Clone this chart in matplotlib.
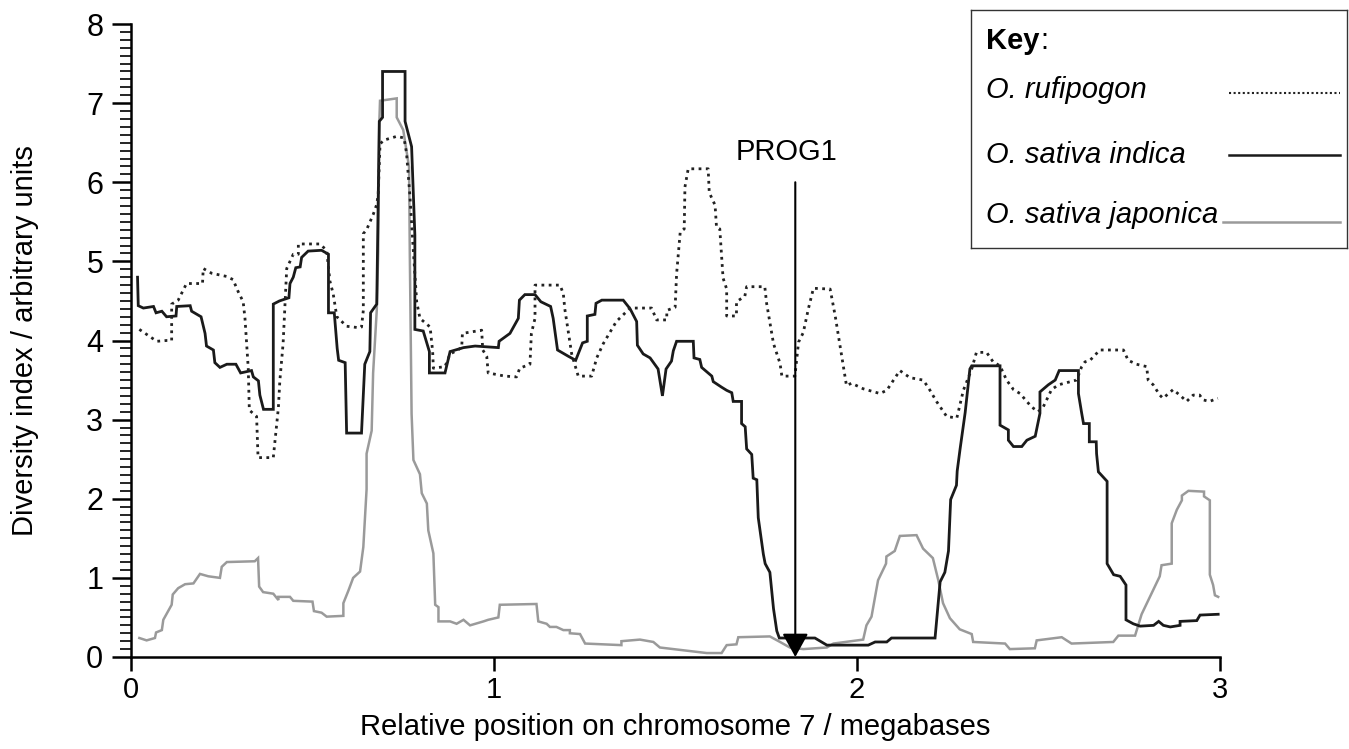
import matplotlib
matplotlib.use("Agg")
import matplotlib.pyplot as plt
from matplotlib.lines import Line2D
from matplotlib.ticker import MultipleLocator

plt.rcParams['font.family'] = ['Liberation Sans', 'DejaVu Sans']

# (position in Mb, diversity index)
rufipogon = [
    (0.023, 4.14), (0.039, 4.09), (0.071, 3.99), (0.098, 4.00), (0.112, 4.00), (0.112, 4.46), (0.130, 4.51),
    (0.153, 4.72), (0.197, 4.72), (0.199, 4.91), (0.222, 4.85), (0.263, 4.81), (0.281, 4.77), (0.295, 4.62),
    (0.309, 4.49), (0.314, 4.28), (0.323, 3.65), (0.326, 3.12), (0.346, 3.04), (0.350, 2.52), (0.392, 2.52),
    (0.406, 3.15), (0.410, 3.49), (0.419, 3.96), (0.429, 4.91), (0.447, 5.09), (0.461, 5.09), (0.461, 5.22),
    (0.520, 5.22), (0.539, 5.14), (0.548, 4.75), (0.557, 4.59), (0.567, 4.30), (0.594, 4.18), (0.631, 4.16),
    (0.635, 4.17), (0.640, 4.38), (0.640, 5.35), (0.649, 5.40), (0.667, 5.59), (0.677, 5.72), (0.681, 5.85),
    (0.686, 6.48), (0.695, 6.53), (0.732, 6.58), (0.752, 6.56), (0.759, 6.37), (0.768, 5.85), (0.778, 5.12),
    (0.787, 4.49), (0.796, 4.28), (0.824, 4.17), (0.831, 3.86), (0.833, 3.65), (0.865, 3.67), (0.879, 3.83),
    (0.892, 3.86), (0.911, 3.91), (0.913, 4.09), (0.966, 4.13), (0.969, 3.88), (0.980, 3.80), (0.984, 3.59),
    (1.030, 3.55), (1.062, 3.54), (1.071, 3.65), (1.099, 3.70), (1.103, 4.09), (1.113, 4.28), (1.113, 4.70),
    (1.182, 4.70), (1.191, 4.59), (1.195, 4.40), (1.205, 4.10), (1.214, 3.83), (1.232, 3.55), (1.269, 3.55),
    (1.283, 3.78), (1.301, 3.96), (1.319, 4.10), (1.337, 4.24), (1.375, 4.41), (1.434, 4.41), (1.448, 4.26),
    (1.476, 4.26), (1.476, 4.38), (1.499, 4.42), (1.503, 4.84), (1.513, 5.37), (1.524, 5.41), (1.526, 5.94),
    (1.535, 6.17), (1.590, 6.17), (1.593, 5.87), (1.609, 5.71), (1.613, 5.43), (1.622, 5.41), (1.631, 4.79),
    (1.641, 4.65), (1.641, 4.31), (1.668, 4.31), (1.668, 4.49), (1.691, 4.56), (1.696, 4.68), (1.746, 4.68),
    (1.751, 4.47), (1.770, 3.96), (1.788, 3.71), (1.793, 3.55), (1.829, 3.55), (1.839, 3.98), (1.852, 4.10),
    (1.866, 4.40), (1.880, 4.66), (1.926, 4.65), (1.940, 4.31), (1.971, 3.43), (1.985, 3.46), (2.017, 3.39),
    (2.063, 3.33), (2.082, 3.37), (2.118, 3.62), (2.146, 3.53), (2.182, 3.50), (2.196, 3.41), (2.219, 3.23),
    (2.247, 3.04), (2.275, 3.02), (2.293, 3.37), (2.316, 3.64), (2.329, 3.85), (2.357, 3.85), (2.375, 3.73),
    (2.394, 3.68), (2.412, 3.50), (2.431, 3.38), (2.449, 3.33), (2.481, 3.16), (2.499, 3.10), (2.513, 3.16),
    (2.536, 3.38), (2.555, 3.44), (2.605, 3.50), (2.619, 3.67), (2.628, 3.73), (2.642, 3.75), (2.669, 3.88),
    (2.734, 3.88), (2.747, 3.75), (2.770, 3.70), (2.798, 3.67), (2.802, 3.50), (2.816, 3.44), (2.834, 3.31),
    (2.843, 3.27), (2.871, 3.38), (2.894, 3.29), (2.908, 3.23), (2.926, 3.31), (2.944, 3.31), (2.953, 3.25),
    (2.971, 3.23), (2.994, 3.27),
]

indica = [
    (0.018, 4.80), (0.020, 4.44), (0.034, 4.41), (0.062, 4.43), (0.069, 4.35), (0.085, 4.37), (0.098, 4.30),
    (0.124, 4.31), (0.126, 4.43), (0.163, 4.44), (0.167, 4.37), (0.193, 4.30), (0.204, 4.09), (0.208, 3.93),
    (0.227, 3.88), (0.231, 3.72), (0.245, 3.66), (0.264, 3.70), (0.289, 3.70), (0.302, 3.59), (0.332, 3.62),
    (0.337, 3.54), (0.351, 3.49), (0.355, 3.31), (0.365, 3.13), (0.392, 3.13), (0.392, 4.46), (0.409, 4.50),
    (0.435, 4.54), (0.438, 4.72), (0.447, 4.80), (0.454, 4.92), (0.466, 4.93), (0.470, 5.05), (0.488, 5.13),
    (0.525, 5.14), (0.544, 5.09), (0.544, 4.35), (0.560, 4.35), (0.568, 3.90), (0.572, 3.75), (0.590, 3.72),
    (0.594, 2.83), (0.635, 2.83), (0.644, 3.70), (0.658, 3.86), (0.660, 4.35), (0.677, 4.46), (0.684, 6.77),
    (0.693, 6.82), (0.693, 7.40), (0.755, 7.40), (0.755, 6.77), (0.773, 6.45), (0.782, 5.33), (0.782, 4.14),
    (0.805, 4.12), (0.822, 3.86), (0.822, 3.59), (0.865, 3.59), (0.879, 3.86), (0.916, 3.91), (0.948, 3.93),
    (1.012, 3.91), (1.014, 3.99), (1.044, 4.09), (1.067, 4.28), (1.070, 4.51), (1.085, 4.58), (1.113, 4.58),
    (1.129, 4.49), (1.156, 4.43), (1.163, 4.28), (1.175, 3.88), (1.205, 3.80), (1.225, 3.75), (1.244, 3.97),
    (1.257, 3.99), (1.257, 4.31), (1.278, 4.33), (1.281, 4.47), (1.297, 4.51), (1.356, 4.51), (1.375, 4.40),
    (1.393, 4.24), (1.395, 3.94), (1.411, 3.83), (1.430, 3.78), (1.452, 3.64), (1.457, 3.50), (1.464, 3.30),
    (1.474, 3.64), (1.489, 3.74), (1.494, 3.87), (1.503, 3.99), (1.549, 3.99), (1.551, 3.78), (1.567, 3.76),
    (1.572, 3.66), (1.600, 3.55), (1.604, 3.48), (1.627, 3.41), (1.641, 3.37), (1.655, 3.34), (1.659, 3.23),
    (1.682, 3.23), (1.682, 2.95), (1.692, 2.91), (1.696, 2.63), (1.710, 2.56), (1.714, 2.26), (1.724, 2.24),
    (1.728, 1.76), (1.742, 1.30), (1.747, 1.18), (1.760, 1.07), (1.770, 0.61), (1.779, 0.33), (1.786, 0.24),
    (1.884, 0.24), (1.917, 0.15), (2.031, 0.15), (2.050, 0.19), (2.082, 0.19), (2.095, 0.24), (2.215, 0.24),
    (2.229, 0.95), (2.242, 1.07), (2.252, 1.34), (2.258, 1.99), (2.274, 2.17), (2.276, 2.35), (2.284, 2.63),
    (2.298, 3.09), (2.311, 3.64), (2.316, 3.68), (2.394, 3.68), (2.394, 2.93), (2.417, 2.87), (2.417, 2.74),
    (2.431, 2.66), (2.454, 2.66), (2.468, 2.74), (2.491, 2.79), (2.504, 3.08), (2.504, 3.35), (2.527, 3.44),
    (2.546, 3.50), (2.557, 3.62), (2.610, 3.62), (2.610, 3.33), (2.619, 3.08), (2.624, 2.95), (2.640, 2.95),
    (2.640, 2.72), (2.659, 2.72), (2.660, 2.57), (2.665, 2.34), (2.689, 2.22), (2.689, 1.18), (2.707, 1.04),
    (2.725, 1.02), (2.741, 0.91), (2.741, 0.47), (2.761, 0.42), (2.780, 0.39), (2.817, 0.40), (2.831, 0.45),
    (2.844, 0.40), (2.863, 0.38), (2.890, 0.40), (2.890, 0.45), (2.936, 0.46), (2.945, 0.53), (2.995, 0.54),
]

japonica = [
    (0.023, 0.24), (0.043, 0.21), (0.066, 0.24), (0.069, 0.31), (0.085, 0.34), (0.089, 0.47), (0.112, 0.66),
    (0.115, 0.79), (0.130, 0.87), (0.149, 0.92), (0.172, 0.93), (0.190, 1.05), (0.213, 1.02), (0.245, 1.00),
    (0.250, 1.14), (0.264, 1.20), (0.341, 1.21), (0.350, 1.25), (0.353, 0.89), (0.364, 0.82), (0.392, 0.80),
    (0.406, 0.72), (0.406, 0.76), (0.438, 0.76), (0.447, 0.71), (0.500, 0.70), (0.504, 0.58), (0.525, 0.56),
    (0.539, 0.51), (0.585, 0.52), (0.585, 0.68), (0.599, 0.84), (0.612, 1.00), (0.631, 1.08), (0.640, 1.39),
    (0.649, 2.12), (0.649, 2.57), (0.663, 2.86), (0.667, 3.59), (0.677, 4.38), (0.681, 5.12), (0.684, 6.74),
    (0.686, 7.03), (0.732, 7.06), (0.732, 6.82), (0.750, 6.66), (0.766, 6.19), (0.768, 5.12), (0.773, 3.07),
    (0.778, 2.49), (0.796, 2.31), (0.801, 2.07), (0.815, 1.94), (0.819, 1.60), (0.833, 1.31), (0.838, 0.66),
    (0.847, 0.63), (0.847, 0.45), (0.879, 0.45), (0.897, 0.42), (0.916, 0.47), (0.934, 0.40), (0.971, 0.45),
    (0.984, 0.47), (1.012, 0.50), (1.016, 0.66), (1.117, 0.67), (1.122, 0.45), (1.145, 0.42), (1.154, 0.38),
    (1.172, 0.38), (1.191, 0.34), (1.209, 0.34), (1.209, 0.30), (1.237, 0.29), (1.251, 0.17), (1.351, 0.15),
    (1.351, 0.20), (1.402, 0.22), (1.439, 0.19), (1.457, 0.12), (1.586, 0.05), (1.627, 0.05), (1.641, 0.15),
    (1.668, 0.16), (1.673, 0.25), (1.760, 0.26), (1.788, 0.19), (1.815, 0.12), (1.852, 0.10), (1.917, 0.12),
    (1.935, 0.17), (2.017, 0.22), (2.026, 0.40), (2.040, 0.51), (2.058, 0.97), (2.080, 1.18), (2.081, 1.27),
    (2.104, 1.34), (2.118, 1.53), (2.164, 1.54), (2.182, 1.37), (2.209, 1.25), (2.224, 0.97), (2.237, 0.68),
    (2.256, 0.49), (2.283, 0.35), (2.316, 0.29), (2.320, 0.19), (2.408, 0.17), (2.421, 0.10), (2.490, 0.11),
    (2.495, 0.21), (2.564, 0.25), (2.591, 0.17), (2.706, 0.19), (2.720, 0.27), (2.766, 0.27), (2.784, 0.54),
    (2.834, 1.02), (2.839, 1.16), (2.867, 1.18), (2.867, 1.69), (2.881, 1.86), (2.895, 1.98), (2.895, 2.04),
    (2.913, 2.10), (2.956, 2.09), (2.956, 2.03), (2.972, 1.98), (2.972, 1.04), (2.981, 0.91), (2.986, 0.78),
    (2.995, 0.76),
]

prog1_pos = 1.83
prog1_top = 6.0

x_ticks = [0, 1, 2, 3]
y_ticks = [0, 1, 2, 3, 4, 5, 6, 7, 8]

FS = 21

fig = plt.figure(figsize=(13.49, 7.49), dpi=100)
ax = fig.add_axes([131 / 1349, 92 / 749, 1089 / 1349, 633 / 749])

jx, jy = zip(*japonica)
ix, iy = zip(*indica)
rx, ry = zip(*rufipogon)
ax.plot(jx, jy, color="#9a9a9a", lw=1.8, solid_joinstyle="miter")
ax.plot(ix, iy, color="#1a1a1a", lw=2.0, solid_joinstyle="miter")
ax.plot(rx, ry, color="#222222", lw=2.0, linestyle=(0, (1, 1.6)))

# PROG1 marker
ax.annotate("", xy=(prog1_pos, 0), xytext=(prog1_pos, prog1_top),
            arrowprops=dict(arrowstyle="-|>,head_length=1.45,head_width=0.8", color="black", lw=1.5,
                            shrinkA=0, shrinkB=0, mutation_scale=10))
ax.text(prog1_pos - 0.025, prog1_top + 0.2, "PROG1", ha="center", va="bottom", fontsize=FS)

ax.set_xlim(0, 3)
ax.set_ylim(0, 8)
ax.set_xticks(x_ticks)
ax.set_yticks(y_ticks)
ax.yaxis.set_minor_locator(MultipleLocator(0.1))
ax.tick_params(axis="x", which="major", direction="out", length=10, width=1.8, labelsize=FS, pad=4)
ax.tick_params(axis="y", which="major", direction="out", length=14, width=1.8, labelsize=FS + 1, pad=6)
ax.tick_params(axis="y", which="minor", direction="out", length=8, width=1.2)
for side in ("top", "right"):
    ax.spines[side].set_visible(False)
for side in ("left", "bottom"):
    ax.spines[side].set_linewidth(1.8)

ax.set_xlabel("Relative position on chromosome 7 / megabases", fontsize=FS)
ax.xaxis.set_label_coords(0.5, -70 / 633)
ax.xaxis.label.set_verticalalignment("center")
ax.set_ylabel("Diversity index / arbitrary units", fontsize=FS)
ax.yaxis.set_label_coords(-106 / 1089, 0.5)
ax.yaxis.label.set_verticalalignment("center")
ax.yaxis.label.set_horizontalalignment("center")

# Key box
kax = fig.add_axes([971 / 1349, 501 / 749, 376 / 1349, 238 / 749])
kax.set_xlim(0, 376)
kax.set_ylim(238, 0)
kax.set_xticks([])
kax.set_yticks([])
for s in kax.spines.values():
    s.set_linewidth(1.0)
    s.set_color("#333333")
key_txt = kax.text(15, 31, "Key", fontsize=FS, fontweight="bold", va="center", ha="left")
fig.canvas.draw()
bb = key_txt.get_window_extent().transformed(kax.transData.inverted())
kax.text(bb.x1 + 1, 31, ":", fontsize=FS, va="center", ha="left")
entries = [
    ("O. rufipogon", 80, 83, dict(color="#222222", lw=1.5, linestyle=(0, (1, 1.2)))),
    ("O. sativa indica", 145, 145, dict(color="#1a1a1a", lw=1.8)),
    ("O. sativa japonica", 205, 212, dict(color="#9a9a9a", lw=1.8)),
]
for label, ty, ly, style in entries:
    kax.text(15, ty, label, fontsize=FS, style="italic", va="center", ha="left")
    kax.add_line(Line2D([258 if ly != 212 else 252, 369], [ly, ly], **style))

fig.savefig("out.png", dpi=100)
